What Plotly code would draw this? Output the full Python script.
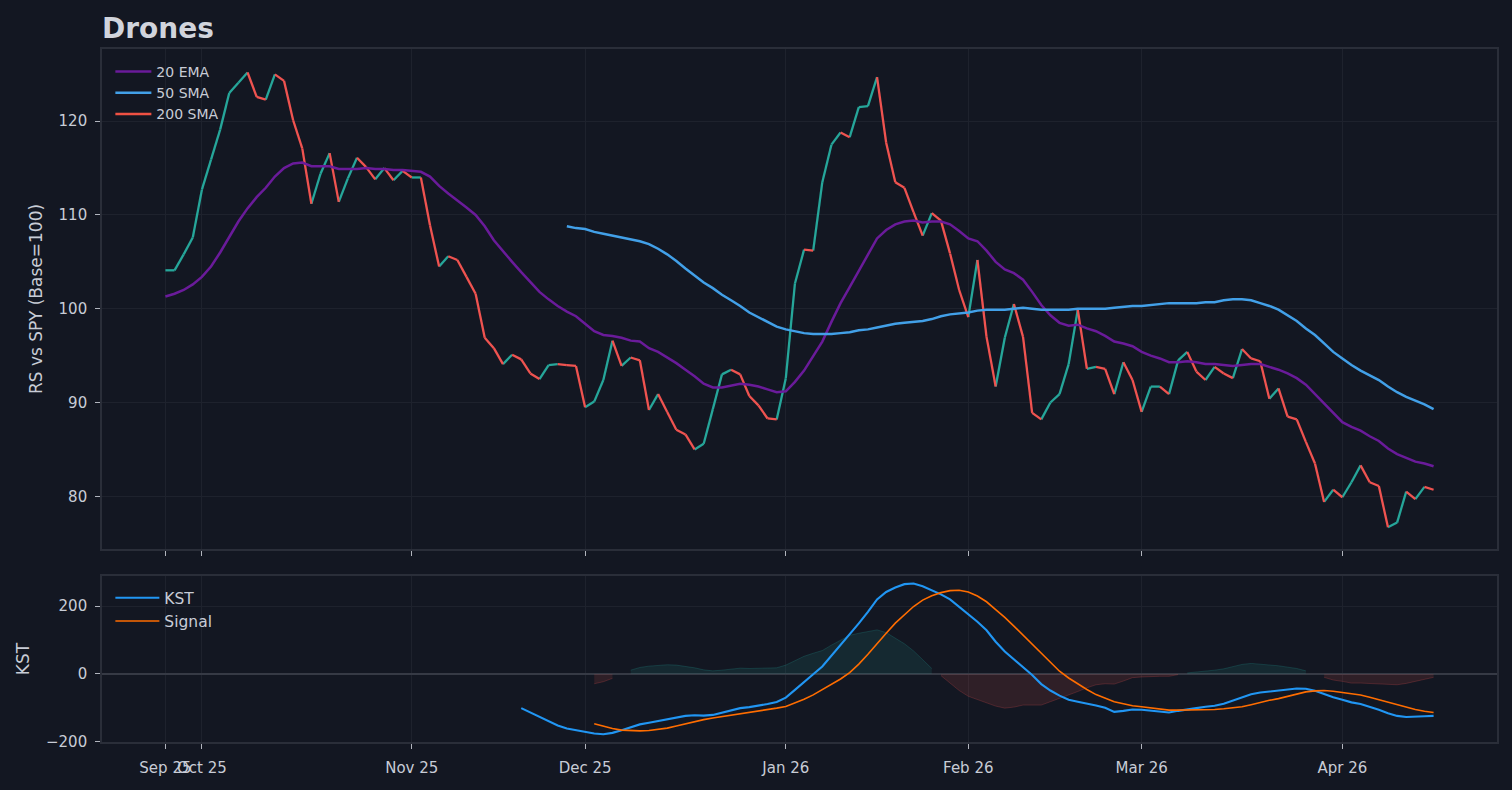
import pandas as pd
import plotly.graph_objects as go
from plotly.subplots import make_subplots

# trading days shown on the chart (US market holidays removed)
HOLIDAYS = ["2025-11-27", "2025-12-25", "2026-01-01", "2026-01-19",
            "2026-02-16", "2026-04-03"]
dates_idx = pd.bdate_range("2025-09-25", periods=140, freq="C", holidays=HOLIDAYS)
dates = [d.strftime("%Y-%m-%d") for d in dates_idx]

# relative strength vs SPY (base = 100)
rs = [
    104.1, 104.1, 105.8, 107.6, 112.7, 115.9, 119.1, 123.0, 124.1, 125.2,
    122.6, 122.3, 125.0, 124.3, 120.1, 117.1, 111.2, 114.4, 116.6, 111.4,
    113.9, 116.1, 115.1, 113.8, 115.0, 113.7, 114.7, 114.0, 114.0, 108.9,
    104.5, 105.6, 105.2, 103.4, 101.6, 96.9, 95.8, 94.1, 95.1, 94.6,
    93.1, 92.5, 94.0, 94.1, 94.0, 93.9, 89.5, 90.1, 92.4, 96.6,
    93.9, 94.8, 94.5, 89.2, 90.9, 89.0, 87.1, 86.6, 85.0, 85.6,
    89.3, 93.0, 93.5, 93.0, 90.7, 89.7, 88.3, 88.2, 92.6, 102.7,
    106.3, 106.2, 113.5, 117.5, 118.8, 118.3, 121.5, 121.6, 124.7, 117.7,
    113.5, 112.9, 110.3, 107.8, 110.2, 109.4, 105.9, 102.0, 99.1, 105.2,
    97.0, 91.7, 96.9, 100.5, 97.0, 88.9, 88.2, 90.0, 90.9, 94.1,
    99.9, 93.6, 93.8, 93.6, 90.9, 94.3, 92.4, 89.0, 91.7, 91.7,
    90.9, 94.5, 95.4, 93.3, 92.4, 93.8, 93.1, 92.6, 95.7, 94.7,
    94.4, 90.4, 91.5, 88.5, 88.2, 85.8, 83.5, 79.4, 80.7, 79.9,
    81.5, 83.3, 81.5, 81.1, 76.7, 77.2, 80.5, 79.7, 81.0, 80.7,
]

ema20 = [
    101.3, 101.6, 102.0, 102.6, 103.4, 104.5, 106.0, 107.7, 109.3, 110.7,
    111.9, 112.9, 114.1, 115.0, 115.5, 115.6, 115.2, 115.2, 115.2, 114.9,
    114.9, 114.9, 115.0, 114.9, 114.9, 114.8, 114.8, 114.7, 114.6, 114.1,
    113.1, 112.3, 111.6, 110.8, 110.0, 108.8, 107.3, 106.1, 105.0, 103.9,
    102.9, 101.8, 101.0, 100.3, 99.7, 99.2, 98.4, 97.6, 97.2, 97.1,
    96.9, 96.6, 96.5, 95.8, 95.4, 94.8, 94.2, 93.5, 92.8, 92.0,
    91.6, 91.6, 91.8, 92.0, 91.9, 91.7, 91.4, 91.1, 91.2, 92.2,
    93.4, 94.9, 96.5, 98.6, 100.6, 102.3, 104.0, 105.8, 107.5, 108.4,
    109.0, 109.3, 109.4, 109.2, 109.3, 109.3, 109.0, 108.3, 107.5, 107.2,
    106.2, 105.0, 104.2, 103.8, 103.1, 101.8, 100.4, 99.3, 98.5, 98.2,
    98.3, 97.9, 97.6, 97.1, 96.5, 96.3, 96.0, 95.4, 95.0, 94.7,
    94.3, 94.3, 94.4, 94.3, 94.1, 94.1, 94.0, 93.9, 94.0, 94.1,
    94.1, 93.8, 93.5, 93.1, 92.6, 91.9, 90.9, 89.9, 88.9, 87.9,
    87.4, 87.0, 86.4, 85.9, 85.1, 84.5, 84.1, 83.7, 83.5, 83.2,
]

sma50 = [None] * 44 + [
    108.8, 108.6, 108.5, 108.2, 108.0, 107.8,
    107.6, 107.4, 107.2, 106.9, 106.4, 105.8, 105.1, 104.3, 103.5, 102.8,
    102.2, 101.5, 100.9, 100.3, 99.6, 99.1, 98.6, 98.1, 97.8, 97.6,
    97.4, 97.3, 97.3, 97.3, 97.4, 97.5, 97.7, 97.8, 98.0, 98.2,
    98.4, 98.5, 98.6, 98.7, 98.9, 99.2, 99.4, 99.5, 99.6, 99.8,
    99.9, 99.9, 99.9, 100.0, 100.1, 100.0, 99.9, 99.9, 99.9, 99.9,
    100.0, 100.0, 100.0, 100.0, 100.1, 100.2, 100.3, 100.3, 100.4, 100.5,
    100.6, 100.6, 100.6, 100.6, 100.7, 100.7, 100.9, 101.0, 101.0, 100.9,
    100.6, 100.3, 99.9, 99.3, 98.7, 97.9, 97.2, 96.3, 95.4, 94.7,
    94.0, 93.4, 92.9, 92.4, 91.7, 91.1, 90.6, 90.2, 89.8, 89.3,
]

kst = [None] * 39 + [
    -101,
    -114, -127, -141, -152, -161, -166, -172, -176, -178, -174,
    -166, -157, -149, -144, -139, -133, -128, -124, -122, -123,
    -121, -115, -109, -101, -98, -94, -89, -83, -70, -47,
    -23, -1, 22, 53, 85, 118, 149, 183, 220, 242,
    255, 265, 267, 259, 247, 235, 220, 198, 176, 154,
    129, 95, 66, 43, 22, -3, -30, -49, -64, -76,
    -82, -87, -93, -100, -112, -109, -105, -106, -108, -111,
    -114, -109, -104, -101, -97, -94, -88, -79, -69, -60,
    -55, -52, -49, -46, -43, -44, -50, -59, -69, -76,
    -84, -89, -97, -106, -116, -124, -127, -127, -125, -124,
]

kst_signal = [None] * 47 + [
    -147, -155, -161,
    -166, -168, -168, -167, -164, -160, -154, -147, -140, -135,
    -130, -126, -123, -118, -114, -110, -106, -101, -96, -86,
    -75, -62, -47, -32, -15, 4, 29, 58, 90, 120,
    150, 176, 199, 218, 231, 240, 246, 247, 242, 230,
    213, 190, 167, 141, 114, 90, 62, 33, 8, -12,
    -30, -46, -61, -71, -82, -88, -94, -97, -101, -104,
    -107, -107, -107, -106, -106, -105, -103, -101, -97, -91,
    -84, -78, -73, -66, -59, -53, -50, -49, -51, -54,
    -57, -62, -69, -76, -84, -92, -99, -105, -110, -114,
]

# KST histogram (KST minus its signal line)
hist = [k - s if (k is not None and s is not None) else None
        for k, s in zip(kst, kst_signal)]

# month ticks: first bar, then first trading day of every month
tick_idx = [0] + [i for i in range(1, len(dates_idx))
                  if dates_idx[i].month != dates_idx[i - 1].month]
tickvals = [dates[i] for i in tick_idx]
ticktext = [dates_idx[i].strftime("%b %y") for i in tick_idx]

BG = "#131722"
GRID = "#1e222d"
FRAME = "#2a2e39"
TEXT = "#c8ccd6"
UP = "#26a69a"
DOWN = "#ef5350"
FONT = "DejaVu Sans"


def sign_runs(values, positive):
    """Contiguous index runs where the value has the requested sign."""
    runs, cur = [], []
    for i, v in enumerate(values):
        if v is not None and ((v > 0) if positive else (v < 0)):
            cur.append(i)
        elif cur:
            runs.append(cur)
            cur = []
    if cur:
        runs.append(cur)
    return runs


# split the RS line into rising / falling segments
up_x, up_y, dn_x, dn_y = [], [], [], []
for i in range(1, len(rs)):
    seg_x = [dates[i - 1], dates[i], dates[i]]
    seg_y = [rs[i - 1], rs[i], None]
    if rs[i] >= rs[i - 1]:
        up_x += seg_x
        up_y += seg_y
    else:
        dn_x += seg_x
        dn_y += seg_y

fig = make_subplots(rows=2, cols=1, shared_xaxes=True)

fig.add_trace(go.Scatter(x=up_x, y=up_y, mode="lines", showlegend=False,
                         line=dict(color=UP, width=2.3), hoverinfo="skip"),
              row=1, col=1)
fig.add_trace(go.Scatter(x=dn_x, y=dn_y, mode="lines", showlegend=False,
                         line=dict(color=DOWN, width=2.3), hoverinfo="skip"),
              row=1, col=1)
fig.add_trace(go.Scatter(x=dates, y=ema20, mode="lines", name="20 EMA",
                         line=dict(color="#6a1b9a", width=2.5), legend="legend"),
              row=1, col=1)
fig.add_trace(go.Scatter(x=dates, y=sma50, mode="lines", name="50 SMA",
                         line=dict(color="#42a0e8", width=2.5), legend="legend"),
              row=1, col=1)
fig.add_trace(go.Scatter(x=[dates[0]], y=[None], mode="lines", name="200 SMA",
                         line=dict(color="#ef5143", width=2.5), legend="legend"),
              row=1, col=1)

# histogram areas, one filled patch per same-sign run
for positive, rgb in ((True, "38,166,154"), (False, "239,83,80")):
    for run in sign_runs(hist, positive):
        fig.add_trace(go.Scatter(
            x=[dates[i] for i in run], y=[hist[i] for i in run],
            mode="lines", fill="tozeroy", showlegend=False, hoverinfo="skip",
            fillcolor=f"rgba({rgb},0.13)",
            line=dict(color=f"rgba({rgb},0.22)", width=1),
        ), row=2, col=1)

fig.add_trace(go.Scatter(x=dates, y=kst, mode="lines", name="KST",
                         line=dict(color="#2196f3", width=2.1), legend="legend2"),
              row=2, col=1)
fig.add_trace(go.Scatter(x=dates, y=kst_signal, mode="lines", name="Signal",
                         line=dict(color="#ff6d00", width=1.6), legend="legend2"),
              row=2, col=1)

axis_common = dict(
    showgrid=True, gridcolor=GRID, gridwidth=1,
    showline=True, mirror=True, linecolor=FRAME, linewidth=1.6,
    ticks="outside", ticklen=5, tickwidth=1.3, tickcolor="#b2b5be",
    tickfont=dict(family=FONT, size=15, color=TEXT),
    zeroline=False,
)
fig.update_xaxes(**axis_common, type="category", categoryorder="array",
                 categoryarray=dates, tickmode="array", tickvals=tickvals,
                 ticktext=ticktext, range=[-6.95, len(dates) - 1 + 6.95],
                 tickangle=0, ticklabelstandoff=6)
fig.update_yaxes(**axis_common, ticklabelstandoff=5)
fig.update_xaxes(showticklabels=False, row=1, col=1)

fig.update_yaxes(domain=[0.2785, 1.0], range=[74.38, 127.7],
                 tickvals=[80, 90, 100, 110, 120],
                 title=dict(text="RS vs SPY (Base=100)", standoff=12,
                            font=dict(family=FONT, size=17, color=TEXT)),
                 row=1, col=1)
fig.update_yaxes(domain=[0.0, 0.2395], range=[-201, 289], tickvals=[-200, 0, 200],
                 zeroline=True, zerolinecolor="#363a45", zerolinewidth=1.6,
                 title=dict(text="KST", standoff=12,
                            font=dict(family=FONT, size=17, color=TEXT)),
                 row=2, col=1)

fig.update_layout(
    width=1512, height=790,
    paper_bgcolor=BG, plot_bgcolor=BG,
    font=dict(family=FONT, color=TEXT),
    margin=dict(l=102, r=15, t=49, b=48),
    title=dict(text="<b>Drones</b>", x=0, xref="paper", xanchor="left",
               y=1 - 28 / 790, yref="container", yanchor="middle",
               font=dict(family=FONT, size=28, color="#d1d4dc")),
    legend=dict(x=0.006, y=0.99, xanchor="left", yanchor="top",
                bgcolor="rgba(0,0,0,0)", borderwidth=0, itemwidth=36,
                font=dict(family=FONT, size=14, color=TEXT)),
    legend2=dict(x=0.006, y=0.232, xanchor="left", yanchor="top",
                 bgcolor="rgba(0,0,0,0)", borderwidth=0, itemwidth=44,
                 tracegroupgap=0,
                 font=dict(family=FONT, size=15.5, color=TEXT)),
    hovermode="x unified",
)

fig.write_html(
    "out.html",
    config={"displayModeBar": False},
    post_script="document.body.style.margin='0';"
                "document.body.style.overflow='hidden';"
                "document.body.style.background='" + BG + "';",
)
